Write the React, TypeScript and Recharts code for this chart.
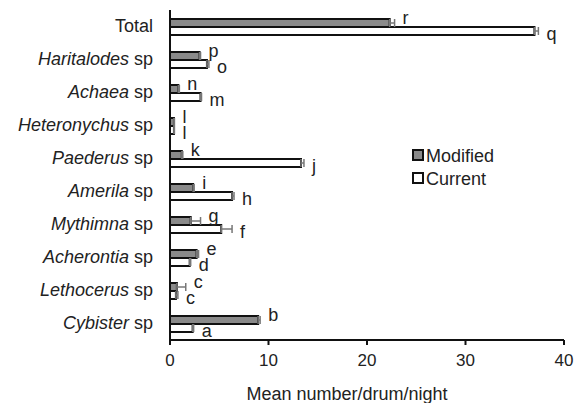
import { BarChart, Bar, XAxis, YAxis, ErrorBar, LabelList, Legend } from 'recharts'

const GENERA = ['Total', 'Haritalodes', 'Achaea', 'Heteronychus', 'Paederus', 'Amerila', 'Mythimna', 'Acherontia', 'Lethocerus', 'Cybister']
const MODIFIED = [22.3, 3.0, 0.85, 0.4, 1.2, 2.35, 2.1, 2.7, 0.7, 8.95]
const MODIFIED_ERR = [0.5, 0.1, 0.1, 0.05, 0.1, 0.1, 1.0, 0.2, 0.9, 0.2]
const CURRENT = [37.0, 3.75, 3.1, 0.4, 13.3, 6.3, 5.2, 2.0, 0.6, 2.3]
const CURRENT_ERR = [0.4, 0.2, 0.1, 0.05, 0.3, 0.2, 1.1, 0.1, 0.2, 0.1]
const MODIFIED_LETTERS = ['r', 'p', 'n', 'l', 'k', 'i', 'g', 'e', 'c', 'b']
const CURRENT_LETTERS = ['q', 'o', 'm', 'l', 'j', 'h', 'f', 'd', 'c', 'a']
const X_TICKS = [0, 10, 20, 30, 40]

const data = GENERA.map((g, i) => ({
  name: g,
  mod: MODIFIED[i],
  modErr: MODIFIED_ERR[i],
  modLetter: MODIFIED_LETTERS[i],
  cur: CURRENT[i],
  curErr: CURRENT_ERR[i],
  curLetter: CURRENT_LETTERS[i],
}))

const FONT = 'Liberation Sans, Arial, sans-serif'
const TEXT = '#222'
const GREY = '#8a8a8a'

function CategoryTick({ x, y, payload }: any) {
  const name = payload.value as string
  return (
    <text x={x - 9} y={y} dy={5} textAnchor="end" fontSize={18} fontFamily={FONT} fill={TEXT}>
      {name === 'Total' ? 'Total' : (
        <>
          <tspan fontStyle="italic">{name}</tspan>
          <tspan> sp</tspan>
        </>
      )}
    </text>
  )
}

// letter placed just past the end of the error bar
function makeLetter(vals: number[], errs: number[], dy: number) {
  return (props: any) => {
    const { x, y, width, height, value, index } = props
    const pxPerUnit = vals[index] ? width / vals[index] : 0
    const end = x + width + errs[index] * pxPerUnit
    return (
      <text x={end + 8} y={y + height / 2 + dy} dy={5} fontSize={18} fontFamily={FONT} fill={TEXT}>
        {value}
      </text>
    )
  }
}

function LegendBox() {
  const items = [
    { label: 'Modified', fill: GREY },
    { label: 'Current', fill: '#fff' },
  ]
  return (
    <svg width={130} height={50}>
      {items.map((it, i) => (
        <g key={it.label} transform={`translate(0, ${i * 23})`}>
          <rect x={1} y={4} width={10} height={10} fill={it.fill} stroke="#111" strokeWidth={2} />
          <text x={14} y={16} fontSize={18} fontFamily={FONT} fill={TEXT}>{it.label}</text>
        </g>
      ))}
    </svg>
  )
}

export default function App() {
  return (
    <div style={{ position: 'absolute', left: 0, top: 0, background: '#fff' }}>
      <BarChart
        width={576}
        height={403}
        data={data}
        layout="vertical"
        margin={{ top: 10, right: 12, bottom: 0, left: 0 }}
        barGap={0}
        barSize={8}
      >
        <XAxis
          type="number"
          domain={[0, 40]}
          ticks={X_TICKS}
          tick={{ fill: TEXT, fontSize: 17, fontFamily: FONT }}
          tickSize={5}
          tickMargin={9}
          tickLine={{ stroke: '#111', strokeWidth: 2 }}
          axisLine={{ stroke: '#111', strokeWidth: 2 }}
          height={63}
          label={{ value: 'Mean number/drum/night', position: 'insideBottom', offset: 3, dx: -20, fontSize: 18, fontFamily: FONT, fill: TEXT }}
        />
        <YAxis
          type="category"
          dataKey="name"
          width={170}
          tick={<CategoryTick />}
          tickLine={false}
          axisLine={{ stroke: '#111', strokeWidth: 2 }}
        />
        <Legend
          layout="vertical"
          verticalAlign="middle"
          align="center"
          content={<LegendBox />}
          wrapperStyle={{ left: 412, top: 146, width: 130 }}
        />
        <Bar dataKey="mod" name="Modified" fill={GREY} stroke="#111" strokeWidth={2} isAnimationActive={false}>
          <ErrorBar dataKey={(d: any) => [0, d.modErr]} direction="x" width={4} stroke="#777" strokeWidth={1.5} />
          <LabelList dataKey="modLetter" content={makeLetter(MODIFIED, MODIFIED_ERR, -4)} />
        </Bar>
        <Bar dataKey="cur" name="Current" fill="#fff" stroke="#111" strokeWidth={2} isAnimationActive={false}>
          <ErrorBar dataKey={(d: any) => [0, d.curErr]} direction="x" width={4} stroke="#777" strokeWidth={1.5} />
          <LabelList dataKey="curLetter" content={makeLetter(CURRENT, CURRENT_ERR, 4)} />
        </Bar>
      </BarChart>
    </div>
  )
}
